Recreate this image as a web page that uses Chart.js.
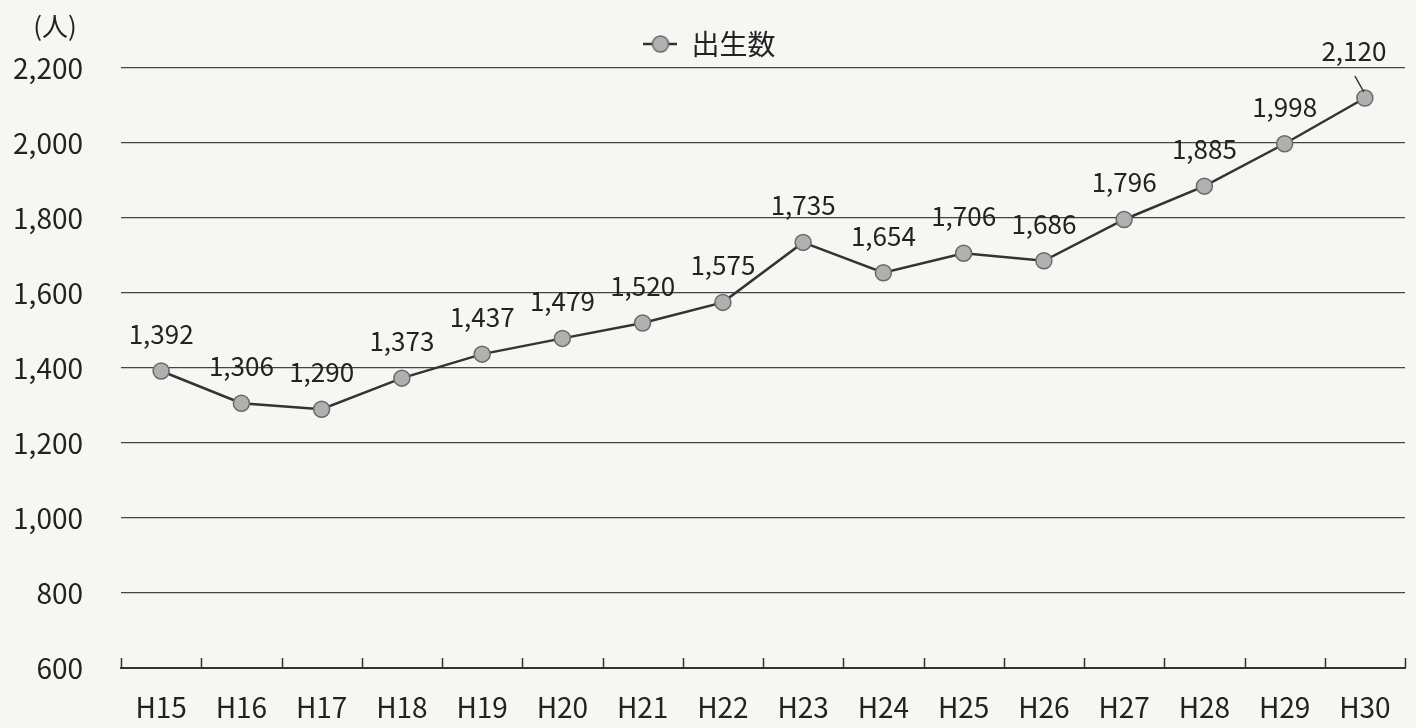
<!DOCTYPE html>
<html lang="ja">
<head>
<meta charset="utf-8">
<title>出生数</title>
<script src="https://cdn.jsdelivr.net/npm/chart.js@4/dist/chart.umd.min.js"></script>
<style>
    html, body { margin: 0; padding: 0; background: #f6f6f3; }
    #wrap { width: 1416px; height: 728px; position: relative; }
</style>
</head>
<body>
<div id="wrap"><canvas id="birthChart"></canvas></div>
<script>
// Data
const years = ["H15", "H16", "H17", "H18", "H19", "H20", "H21", "H22",
    "H23", "H24", "H25", "H26", "H27", "H28", "H29", "H30"];
const births = [1392, 1306, 1290, 1373, 1437, 1479, 1520, 1575,
    1735, 1654, 1706, 1686, 1796, 1885, 1998, 2120];
const yMin = 600;
const yMax = 2200;
const yStep = 200;
const seriesName = "出生数";
const unitLabel = "(人)";

const FONT = "'Noto Sans CJK JP', 'Noto Sans', sans-serif";
const INK = "#222";

// Legend marker: short line with the circle on it
function legendMarker() {
    const c = document.createElement("canvas");
    c.width = 34;
    c.height = 20;
    const g = c.getContext("2d");
    g.strokeStyle = "#333";
    g.lineWidth = 2.5;
    g.beginPath();
    g.moveTo(0, 10);
    g.lineTo(34, 10);
    g.stroke();
    g.beginPath();
    g.arc(17, 10, 8, 0, Math.PI * 2);
    g.fillStyle = "#b0b0b0";
    g.fill();
    g.lineWidth = 1.5;
    g.strokeStyle = "#6a6a6a";
    g.stroke();
    return c;
}

// Small upward tick marks on the x axis, between categories
const axisTicks = {
    id: "axisTicks",
    afterDraw(chart) {
        const x = chart.scales.x;
        const ctx = chart.ctx;
        const step = x.getPixelForValue(1) - x.getPixelForValue(0);
        const bottom = chart.chartArea.bottom;
        ctx.save();
        ctx.strokeStyle = "#333";
        ctx.lineWidth = 1.5;
        ctx.beginPath();
        for (let i = 0; i <= years.length; i++) {
            const px = Math.round(x.getPixelForValue(0) - step / 2 + i * step) + 0.5;
            ctx.moveTo(px, bottom);
            ctx.lineTo(px, bottom - 10);
        }
        ctx.stroke();
        ctx.restore();
    }
};

// Value labels above each point (last one pulled up-left with a leader line)
const valueLabels = {
    id: "valueLabels",
    afterDatasetsDraw(chart) {
        const ctx = chart.ctx;
        const meta = chart.getDatasetMeta(0);
        ctx.save();
        ctx.font = "26px " + FONT;
        ctx.fillStyle = INK;
        ctx.textAlign = "center";
        ctx.textBaseline = "middle";
        meta.data.forEach((pt, i) => {
            const text = births[i].toLocaleString("en-US");
            if (i === meta.data.length - 1) {
                ctx.fillText(text, pt.x - 11, pt.y - 47);
                ctx.strokeStyle = "#333";
                ctx.lineWidth = 1.5;
                ctx.beginPath();
                ctx.moveTo(pt.x - 10, pt.y - 22);
                ctx.lineTo(pt.x - 1, pt.y - 6);
                ctx.stroke();
            } else {
                ctx.fillText(text, pt.x, pt.y - 37);
            }
        });
        ctx.restore();
    }
};

// Unit label above the y axis
const unitText = {
    id: "unitText",
    afterDraw(chart) {
        const ctx = chart.ctx;
        ctx.save();
        ctx.font = "26px " + FONT;
        ctx.fillStyle = INK;
        ctx.textAlign = "center";
        ctx.textBaseline = "middle";
        ctx.fillText(unitLabel, 55, chart.chartArea.top - 42);
        ctx.restore();
    }
};

const canvas = document.getElementById("birthChart");
canvas.width = 1416;
canvas.height = 728;

new Chart(canvas.getContext("2d"), {
    type: "line",
    data: {
        labels: years,
        datasets: [{
            label: seriesName,
            data: births,
            borderColor: "#333",
            borderWidth: 2.5,
            tension: 0,
            pointRadius: 8,
            pointHoverRadius: 8,
            pointBackgroundColor: "#b0b0b0",
            pointBorderColor: "#6a6a6a",
            pointBorderWidth: 1.5
        }]
    },
    options: {
        responsive: false,
        animation: false,
        layout: {
            autoPadding: false,
            padding: { top: 27, right: 11, bottom: 0, left: 14 }
        },
        plugins: {
            tooltip: { enabled: false },
            legend: {
                position: "top",
                labels: {
                    usePointStyle: true,
                    pointStyleWidth: 34,
                    boxHeight: 20,
                    padding: 3,
                    color: INK,
                    font: { family: FONT, size: 28 },
                    generateLabels: () => [{
                        text: seriesName,
                        pointStyle: legendMarker(),
                        fontColor: INK,
                        datasetIndex: 0,
                        lineWidth: 0
                    }]
                }
            }
        },
        scales: {
            x: {
                offset: true,
                border: { display: true, color: "#333", width: 2 },
                grid: { display: false, drawTicks: false },
                afterFit(scale) { scale.height = 60; },
                ticks: {
                    padding: 23,
                    color: INK,
                    font: { family: FONT, size: 28 },
                    maxRotation: 0
                }
            },
            y: {
                min: yMin,
                max: yMax,
                border: { display: false },
                grid: { color: "#444", lineWidth: 1.2, drawTicks: false },
                afterFit(scale) { scale.width = 107; },
                ticks: {
                    stepSize: yStep,
                    padding: 38,
                    color: INK,
                    font: { family: FONT, size: 28 },
                    callback: (v) => v.toLocaleString("en-US")
                }
            }
        }
    },
    plugins: [axisTicks, valueLabels, unitText]
});
</script>
</body>
</html>
